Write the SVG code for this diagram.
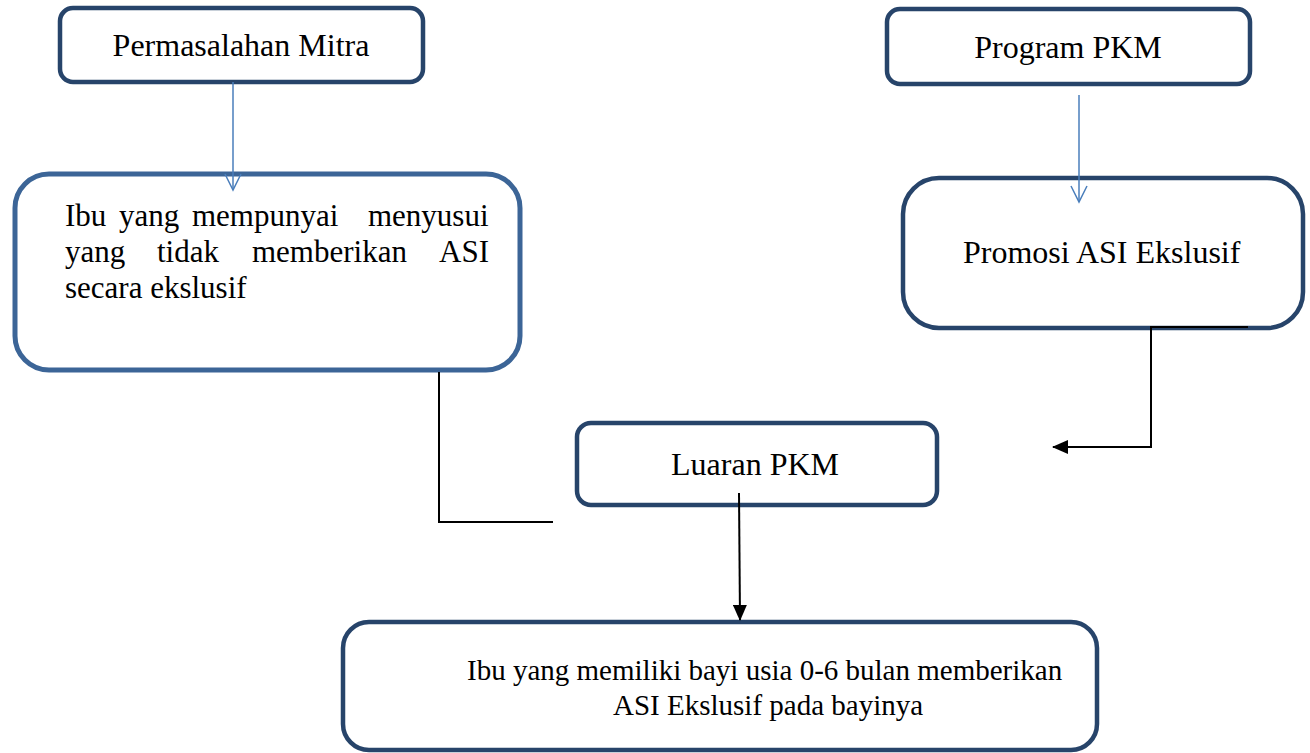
<svg xmlns="http://www.w3.org/2000/svg" width="1310" height="753" viewBox="0 0 1310 753">
  <style>
    .box { fill: #ffffff; stroke: #27446a; stroke-width: 4.5; }
    .box2 { fill: #ffffff; stroke: #3c6597; stroke-width: 5; }
    .t { font-family: "Liberation Serif", "Times New Roman", serif; fill: #000000; }
    .blue { fill: none; stroke: #4a7ebb; stroke-width: 1.5; }
    .blk { fill: none; stroke: #000000; stroke-width: 2; }
  </style>
  <defs>
    <marker id="ah" viewBox="0 0 16 14" refX="15" refY="7" markerWidth="16" markerHeight="14" markerUnits="userSpaceOnUse" orient="auto">
      <path d="M0,0 L16,7 L0,14 Z" fill="#000000"/>
    </marker>
  </defs>
  <rect width="1310" height="753" fill="#ffffff"/>

  <g id="node-permasalahan">
    <rect class="box" x="60" y="8" width="363" height="74" rx="13"/>
    <text class="t" x="241" y="56" font-size="32" text-anchor="middle">Permasalahan Mitra</text>
  </g>

  <g id="node-ibu">
    <rect class="box2" x="15" y="174" width="505" height="196" rx="34"/>
    <text class="t" font-size="31" y="226"><tspan x="65">Ibu</tspan><tspan x="119">yang</tspan><tspan x="192">mempunyai</tspan><tspan x="368">menyusui</tspan></text>
    <text class="t" font-size="31" y="262"><tspan x="65">yang</tspan><tspan x="157">tidak</tspan><tspan x="252">memberikan</tspan><tspan x="439">ASI</tspan></text>
    <text class="t" font-size="31" x="65" y="298">secara ekslusif</text>
  </g>

  <g id="node-program">
    <rect class="box" x="887" y="9" width="363" height="75" rx="13"/>
    <text class="t" x="1068" y="58" font-size="32" text-anchor="middle">Program PKM</text>
  </g>

  <g id="node-promosi">
    <rect class="box" x="903" y="178" width="400" height="150" rx="36"/>
    <text class="t" x="963" y="263" font-size="32">Promosi ASI Ekslusif</text>
  </g>

  <g id="node-luaran">
    <rect class="box" x="577" y="423" width="360" height="82" rx="14"/>
    <text class="t" x="755" y="475" font-size="32" text-anchor="middle">Luaran PKM</text>
  </g>

  <g id="node-hasil">
    <rect class="box" x="343" y="622" width="754" height="128" rx="26"/>
    <text class="t" x="467" y="680" font-size="29">Ibu yang memiliki bayi usia 0-6 bulan memberikan</text>
    <text class="t" x="613" y="715" font-size="29">ASI Ekslusif pada bayinya</text>
  </g>

  <g id="connectors">
    <path class="blue" d="M233,82 L233,190"/>
    <path class="blue" d="M225,174 L233,190 L241,174"/>
    <path class="blue" d="M1079,95 L1079,202"/>
    <path class="blue" d="M1071,186 L1079,202 L1087,186"/>
    <path class="blk" d="M1248,327 L1151,327 L1151,447 L1053,447" marker-end="url(#ah)"/>
    <path class="blk" d="M439,372 L439,522 L553,522"/>
    <path class="blk" d="M739,493 L740,620" marker-end="url(#ah)"/>
  </g>
</svg>
